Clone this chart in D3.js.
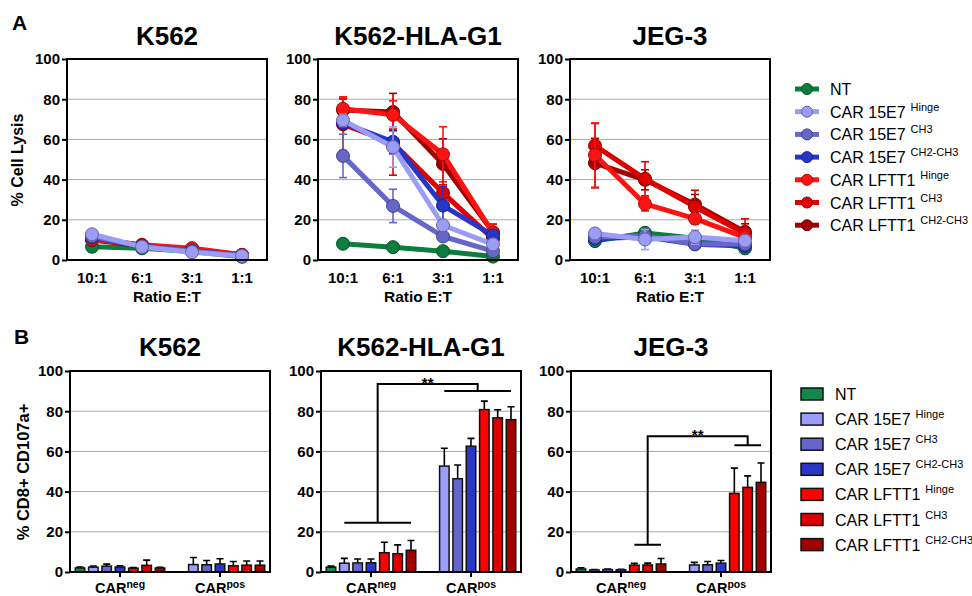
<!DOCTYPE html>
<html lang="en">
<head>
<meta charset="UTF-8">
<title>CAR lysis and CD107a</title>
<script src="https://cdn.jsdelivr.net/npm/d3@7"></script>
<style>
    body { margin: 0; background: #fff; }
    svg { font-family: Arial, "Liberation Sans", sans-serif; }
</style>
</head>
<body>
<svg width="972" height="596"></svg>
<script>
// categories
const ratios = ["10:1", "6:1", "3:1", "1:1"];
const carGroups = ["neg", "pos"];
const groupNames = ["NT", "CAR 15E7", "CAR 15E7", "CAR 15E7", "CAR LFTT1", "CAR LFTT1", "CAR LFTT1"];
const groupSups = ["", "Hinge", "CH3", "CH2-CH3", "Hinge", "CH3", "CH2-CH3"];
const lineColors = ["#0b7d3e", "#9a9cf6", "#6567c9", "#2636c6", "#ff1212", "#e00000", "#a30000"];
const barColors = ["#12884a", "#9a9cff", "#6466cc", "#2a36c6", "#ff0000", "#dc0000", "#a00000"];
const yTicks = [0, 20, 40, 60, 80, 100];

// % cell lysis, one row per group (NT, 15E7 x3, LFTT1 x3), columns = ratios
const lysisK562 = [[6.6, 5.8, 4.2, 1.6], [12.8, 6.5, 3.9, 2.0], [11.8, 6.8, 4.4, 2.1], [11.2, 7.0, 4.6, 2.2],
                   [10.2, 7.6, 5.9, 2.6], [10.8, 7.3, 5.5, 2.5], [10.0, 7.1, 5.2, 2.4]];
const lysisK562Sd = [[2.5, 0.8, 0.6, 0.4], [1.5, 1, 0.8, 0.5], [1.5, 1, 0.8, 0.5], [1.5, 1, 0.8, 0.5],
                     [1.5, 1, 0.8, 0.5], [1.5, 1, 0.8, 0.5], [1.5, 1, 0.8, 0.5]];
const lysisG1 = [[8.1, 6.4, 4.4, 1.7], [69.5, 56.2, 17.3, 7.8], [51.8, 26.9, 11.7, 4.4], [68.2, 58.8, 27.1, 12.2],
                 [75.2, 72.2, 52.6, 13.4], [67.5, 58.2, 33.4, 10.5], [74.6, 73.6, 47.8, 13.8]];
const lysisG1Sd = [[0.8, 0.8, 0.6, 0.4], [3, 10, 2, 1.5], [10.8, 8.3, 1.5, 1], [2.5, 6, 9.5, 2],
                   [6, 7, 13.7, 4.5], [13, 16, 4, 3], [5.5, 9.3, 12.5, 4]];
const lysisJEG = [[9.4, 13.5, 10.8, 5.8], [13.2, 10.2, 11.4, 9.6], [11.4, 12.0, 8.0, 8.0], [10.6, 11.6, 7.8, 7.0],
                  [52.2, 27.9, 20.6, 11.3], [56.9, 40.4, 26.4, 13.2], [48.2, 39.9, 27.6, 14.0]];
const lysisJEGSd = [[1, 1.5, 1, 0.8], [2.5, 5, 3.5, 1.5], [1.5, 2, 1, 1], [1, 1.5, 1, 1],
                    [16, 3.5, 2.5, 3], [11, 8.5, 8.3, 7.3], [12.3, 5, 5, 4]];

// % CD8+ CD107a+, per group, CARneg and CARpos (no NT in CARpos)
const cdK562Neg = [2.0, 2.4, 2.9, 2.5, 1.9, 3.3, 2.0];
const cdK562NegSd = [0.5, 0.6, 1.0, 0.6, 0.3, 2.6, 0.3];
const cdK562Pos = [null, 3.7, 3.6, 4.0, 3.1, 3.4, 3.4];
const cdK562PosSd = [0, 3.5, 2.1, 2.6, 2.1, 2.1, 2.1];
const cdG1Neg = [2.4, 4.4, 4.5, 4.6, 9.6, 9.1, 10.8];
const cdG1NegSd = [0.5, 2.4, 2.0, 1.9, 5.2, 4.4, 4.9];
const cdG1Pos = [null, 52.7, 46.4, 62.6, 80.8, 76.7, 75.8];
const cdG1PosSd = [0, 8.9, 6.8, 3.9, 4.2, 4.0, 6.4];
const cdJEGNeg = [1.5, 1.0, 1.2, 1.1, 3.4, 3.5, 4.0];
const cdJEGNegSd = [0.6, 0.2, 0.3, 0.3, 0.9, 0.9, 2.7];
const cdJEGPos = [null, 3.5, 3.6, 4.4, 39.1, 42.1, 44.6];
const cdJEGPosSd = [0, 1.3, 1.6, 1.3, 12.6, 5.7, 9.6];

// significance brackets: [first slot, last slot, level] for CARneg, same for CARpos, top level
const sigG1 = [1, 6, 24.5, 1, 6, 90, 93.5];
const sigJEG = [4, 6, 13.6, 4, 6, 63, 67.5];

const lineOrder = [0, 6, 5, 4, 3, 2, 1];
const svg = d3.select("svg");
const W = 200, H = 201;

function frame(g, y) {
    g.selectAll(".grid").data(yTicks.slice(1, 5)).join("line")
        .attr("x1", 0).attr("x2", W)
        .attr("y1", d => y(d)).attr("y2", d => y(d))
        .attr("stroke", "#a8a8a8").attr("stroke-width", 1);
    const ax = g.append("g")
        .call(d3.axisLeft(y).tickValues(yTicks).tickSize(5).tickPadding(2));
    ax.attr("font-family", null);
    ax.select(".domain").remove();
    ax.selectAll("line").attr("stroke", "#000").attr("stroke-width", 2);
    ax.selectAll("text").attr("font-size", 15).attr("font-weight", "bold").attr("fill", "#000");
}

function border(g) {
    g.append("rect").attr("width", W).attr("height", H)
        .attr("fill", "none").attr("stroke", "#000").attr("stroke-width", 2);
}

function linePanel(x0, title, means, sds) {
    const g = svg.append("g").attr("transform", `translate(${x0},59)`);
    const y = d3.scaleLinear().domain([0, 100]).range([H, 0]);
    const x = d3.scalePoint().domain(ratios).range([0, W]).padding(0.5);
    frame(g, y);

    lineOrder.forEach(i => {
        const pts = ratios.map((r, j) => ({ r: r, v: means[i][j], sd: sds[i][j] }));
        g.append("path").datum(pts)
            .attr("fill", "none").attr("stroke", lineColors[i]).attr("stroke-width", 5)
            .attr("stroke-linejoin", "round")
            .attr("d", d3.line().x(d => x(d.r)).y(d => y(d.v)));
        const eb = g.append("g").attr("stroke", lineColors[i]).attr("stroke-width", 1.6);
        pts.forEach(d => {
            eb.append("line").attr("x1", x(d.r)).attr("x2", x(d.r))
                .attr("y1", y(d.v - d.sd)).attr("y2", y(d.v + d.sd));
            [d.v - d.sd, d.v + d.sd].forEach(v => {
                eb.append("line").attr("x1", x(d.r) - 4).attr("x2", x(d.r) + 4)
                    .attr("y1", y(v)).attr("y2", y(v));
            });
        });
        g.selectAll(null).data(pts).join("circle")
            .attr("cx", d => x(d.r)).attr("cy", d => y(d.v)).attr("r", 6.5)
            .attr("fill", lineColors[i])
            .attr("stroke", d3.color(lineColors[i]).darker(1.2)).attr("stroke-width", 1);
    });
    border(g);

    g.selectAll(".xl").data(ratios).join("text")
        .attr("x", d => x(d)).attr("y", 224).attr("text-anchor", "middle")
        .attr("font-size", 15).attr("font-weight", "bold").text(d => d);
    g.append("text").attr("x", W / 2).attr("y", 243).attr("text-anchor", "middle")
        .attr("font-size", 15.5).attr("font-weight", "bold").text("Ratio E:T");
    g.append("text").attr("x", W / 2).attr("y", -14).attr("text-anchor", "middle")
        .attr("font-size", 26).attr("font-weight", "bold").text(title);
}

function barPanel(x0, title, neg, negSd, pos, posSd, sig) {
    const g = svg.append("g").attr("transform", `translate(${x0},371)`);
    const y = d3.scaleLinear().domain([0, 100]).range([H, 0]);
    const x = d3.scalePoint().domain(carGroups).range([0, W]).padding(0.5);
    const slot = d3.scaleLinear().domain([0, 6]).range([-40, 40]);
    const bw = 9.5;
    frame(g, y);

    const bars = [];
    [[neg, negSd], [pos, posSd]].forEach(([vals, sd], k) => {
        vals.forEach((v, i) => {
            if (v !== null) bars.push({ grp: carGroups[k], i: i, v: v, sd: sd[i] });
        });
    });
    const cx = d => x(d.grp) + slot(d.i);
    g.selectAll(".eb").data(bars).join("path")
        .attr("fill", "none").attr("stroke", "#000").attr("stroke-width", 1.6)
        .attr("d", d => `M${cx(d)},${y(d.v)}V${y(d.v + d.sd)}M${cx(d) - 3.5},${y(d.v + d.sd)}H${cx(d) + 3.5}`);
    g.selectAll(".bar").data(bars).join("rect")
        .attr("x", d => cx(d) - bw / 2).attr("width", bw)
        .attr("y", d => y(d.v)).attr("height", d => y(0) - y(d.v))
        .attr("fill", d => barColors[d.i]).attr("stroke", "#111").attr("stroke-width", 1.5);
    border(g);

    g.selectAll(".tk").data(carGroups).join("line")
        .attr("x1", d => x(d)).attr("x2", d => x(d)).attr("y1", H).attr("y2", H + 5)
        .attr("stroke", "#000").attr("stroke-width", 2);
    const lab = g.selectAll(".xl").data(carGroups).join("text")
        .attr("x", d => x(d)).attr("y", 222).attr("text-anchor", "middle")
        .attr("font-size", 14.5).attr("font-weight", "bold");
    lab.append("tspan").text("CAR");
    lab.append("tspan").attr("font-size", 10.5).attr("dy", -5).text(d => d);

    g.append("text").attr("x", W / 2).attr("y", -15).attr("text-anchor", "middle")
        .attr("font-size", 26).attr("font-weight", "bold").text(title);

    if (sig) {
        const nx1 = x("neg") + slot(sig[0]), nx2 = x("neg") + slot(sig[1]);
        const px1 = x("pos") + slot(sig[3]), px2 = x("pos") + slot(sig[4]);
        const nm = (nx1 + nx2) / 2, pm = (px1 + px2) / 2;
        g.append("path").attr("fill", "none").attr("stroke", "#000").attr("stroke-width", 2)
            .attr("d", `M${nx1},${y(sig[2])}H${nx2}M${nm},${y(sig[2])}V${y(sig[6])}H${pm}V${y(sig[5])}` +
                       `M${px1},${y(sig[5])}H${px2}`);
        g.append("text").attr("x", (nm + pm) / 2).attr("y", y(sig[6]) + 3.5)
            .attr("text-anchor", "middle").attr("font-size", 15).attr("font-weight", "bold").text("**");
    }
}

linePanel(67, "K562", lysisK562, lysisK562Sd);
linePanel(318, "K562-HLA-G1", lysisG1, lysisG1Sd);
linePanel(570, "JEG-3", lysisJEG, lysisJEGSd);

barPanel(70, "K562", cdK562Neg, cdK562NegSd, cdK562Pos, cdK562PosSd, null);
barPanel(321, "K562-HLA-G1", cdG1Neg, cdG1NegSd, cdG1Pos, cdG1PosSd, sigG1);
barPanel(571, "JEG-3", cdJEGNeg, cdJEGNegSd, cdJEGPos, cdJEGPosSd, sigJEG);

// panel letters and y titles
svg.append("text").attr("x", 12).attr("y", 30).attr("font-size", 21).attr("font-weight", "bold").text("A");
svg.append("text").attr("x", 14).attr("y", 344).attr("font-size", 21).attr("font-weight", "bold").text("B");
svg.append("text").attr("transform", "translate(23,160) rotate(-90)").attr("text-anchor", "middle")
    .attr("font-size", 16).attr("font-weight", "bold").text("% Cell Lysis");
svg.append("text").attr("transform", "translate(29,472) rotate(-90)").attr("text-anchor", "middle")
    .attr("font-size", 16.5).attr("font-weight", "bold").text("% CD8+ CD107a+");

// legends
function legendText(sel, i) {
    sel.append("tspan").text(groupNames[i]);
    if (groupSups[i]) sel.append("tspan").attr("dx", 5).attr("dy", -7).attr("font-size", 11).text(groupSups[i]);
}

const legTop = svg.append("g");
groupNames.forEach((n, i) => {
    const yy = 89 + i * 22.7;
    legTop.append("line").attr("x1", 795).attr("x2", 819).attr("y1", yy).attr("y2", yy)
        .attr("stroke", lineColors[i]).attr("stroke-width", 5);
    legTop.append("circle").attr("cx", 807).attr("cy", yy).attr("r", 5.5)
        .attr("fill", lineColors[i]).attr("stroke", d3.color(lineColors[i]).darker(1.2));
    legendText(legTop.append("text").attr("x", 830).attr("y", yy + 6).attr("font-size", 16), i);
});

const legBot = svg.append("g");
groupNames.forEach((n, i) => {
    const yy = 394 + i * 25.1;
    legBot.append("rect").attr("x", 801).attr("y", yy - 6).attr("width", 22).attr("height", 12)
        .attr("fill", barColors[i]).attr("stroke", "#111").attr("stroke-width", 1.5);
    legendText(legBot.append("text").attr("x", 835).attr("y", yy + 6).attr("font-size", 16), i);
});
</script>
</body>
</html>
